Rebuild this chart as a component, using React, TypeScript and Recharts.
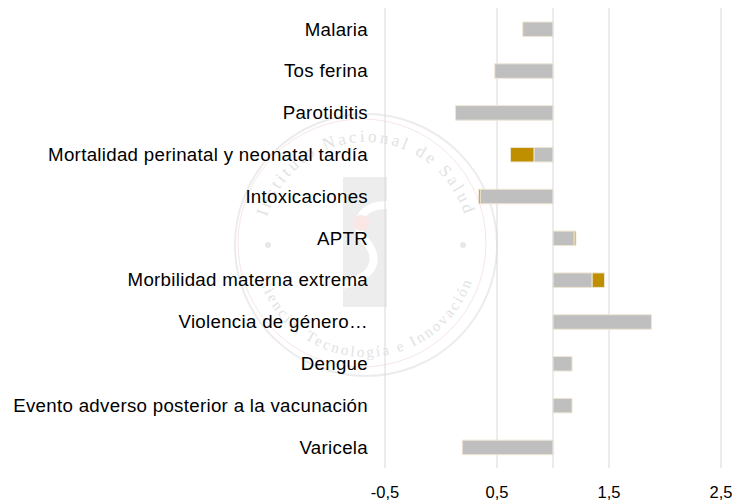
import React from "react";
import { BarChart, Bar, XAxis, YAxis, CartesianGrid, ReferenceLine } from "recharts";

const categories = [
  "Malaria",
  "Tos ferina",
  "Parotiditis",
  "Mortalidad perinatal y neonatal tardía",
  "Intoxicaciones",
  "APTR",
  "Morbilidad materna extrema",
  "Violencia de género…",
  "Dengue",
  "Evento adverso posterior a la vacunación",
  "Varicela",
];

const grayStart = [0.73, 0.48, 0.13, 0.83, 0.35, 1, 1, 1, 1, 1, 0.19];
const grayEnd = [1, 1, 1, 1, 1, 1.19, 1.35, 1.88, 1.17, 1.17, 1];
const goldStart: (number | null)[] = [null, null, null, 0.62, 0.335, 1.19, 1.35, null, null, null, null];
const goldEnd: (number | null)[] = [null, null, null, 0.83, 0.35, 1.205, 1.46, null, null, null, null];

const xTicks = [-0.5, 0.5, 1.5, 2.5];

const watermarkTop = "Instituto Nacional de Salud";
const watermarkBottom = "Ciencia, Tecnología e Innovación";

const data = categories.map((name, i) => ({
  name,
  gray: [grayStart[i], grayEnd[i]],
  gold: goldStart[i] == null ? null : [goldStart[i], goldEnd[i]],
}));

const FONT = "'Liberation Sans', Arial, Helvetica, sans-serif";

function pt(cx: number, cy: number, r: number, deg: number) {
  const a = (deg * Math.PI) / 180;
  return `${(cx + r * Math.cos(a)).toFixed(1)} ${(cy - r * Math.sin(a)).toFixed(1)}`;
}

function Watermark() {
  const cx = 366;
  const cy = 245;
  const rT = 103;
  const rB = 112;
  const topPath = `M ${pt(cx, cy, rT, 210)} A ${rT} ${rT} 0 1 1 ${pt(cx, cy, rT, -30)}`;
  const bottomPath = `M ${pt(cx, cy, rB, 150)} A ${rB} ${rB} 0 1 0 ${pt(cx, cy, rB, 30)}`;
  return (
    <svg width={732} height={504} style={{ position: "absolute", left: 0, top: 0 }}>
      <defs>
        <path id="wmTop" d={topPath} />
        <path id="wmBottom" d={bottomPath} />
      </defs>
      <circle cx={cx} cy={cy} r={131} fill="none" stroke="#ececec" strokeWidth={2} />
      <circle cx={cx - 4} cy={cy - 2} r={124} fill="none" stroke="#f8e6e6" strokeWidth={1} />
      <rect x={343} y={177} width={44} height={130} fill="#ededed" />
      <path d="M 387 205 C 360 205 352 225 365 240 C 378 255 380 275 343 285" fill="none" stroke="#ffffff" strokeWidth={8} />
      <circle cx={361} cy={223} r={8} fill="#fbe6e6" />
      <circle cx={268} cy={245} r={3} fill="#e8e8e8" />
      <circle cx={463} cy={245} r={3} fill="#e8e8e8" />
      <text fontFamily="'Liberation Serif', 'Times New Roman', serif" fontSize={17} fill="#e2e2e2" letterSpacing={3}>
        <textPath href="#wmTop" startOffset="50%" textAnchor="middle">
          {watermarkTop}
        </textPath>
      </text>
      <text fontFamily="'Liberation Serif', 'Times New Roman', serif" fontSize={15} fill="#e2e2e2" letterSpacing={2.5}>
        <textPath href="#wmBottom" startOffset="50%" textAnchor="middle">
          {watermarkBottom}
        </textPath>
      </text>
    </svg>
  );
}

export default function App() {
  return (
    <div style={{ position: "absolute", left: 0, top: 0, width: 732, height: 504, background: "#fff" }}>
      <Watermark />
      <div style={{ position: "absolute", left: 0, top: 0 }}>
        <BarChart
          width={732}
          height={504}
          data={data}
          layout="vertical"
          margin={{ top: 8, right: 11, bottom: 0, left: 0 }}
          barSize={14.5}
          barGap={-14.5}
        >
          <CartesianGrid horizontal={false} stroke="#d9d9d9" />
          <XAxis
            type="number"
            domain={[-0.5, 2.5]}
            ticks={xTicks}
            tickFormatter={(v: number) => String(v).replace(".", ",")}
            axisLine={false}
            tickLine={false}
            tickSize={0}
            tickMargin={18}
            height={36}
            interval={0}
            tick={{ fill: "#000", fontSize: 16.5, fontFamily: FONT }}
          />
          <YAxis
            type="category"
            dataKey="name"
            width={385}
            axisLine={false}
            tickLine={false}
            tickSize={0}
            tickMargin={17}
            interval={0}
            tick={{ fill: "#000", fontSize: 18.7, fontFamily: FONT, letterSpacing: 0.3 }}
          />
          <ReferenceLine x={1} stroke="#d9d9d9" />
          <Bar dataKey="gray" fill="#bfbfbf" stroke="#efe6d4" strokeWidth={1} isAnimationActive={false} />
          <Bar dataKey="gold" fill="#bf8f00" stroke="#efe6d4" strokeWidth={1} isAnimationActive={false} />
        </BarChart>
      </div>
    </div>
  );
}
